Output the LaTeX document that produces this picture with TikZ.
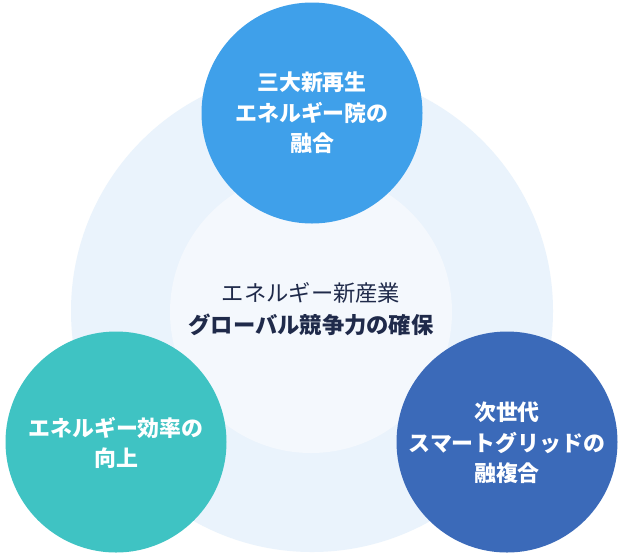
\documentclass[tikz,border=0pt]{standalone}
\usepackage{fontspec}
\setmainfont{Noto Sans CJK JP}
\begin{document}
\begin{tikzpicture}[x=1pt,y=-1pt,
  bigc/.style={circle,minimum size=#1,inner sep=0pt},
  ctext/.style={text=white,font=\fontsize{21.9}{30.5}\selectfont\bfseries,align=center},
  mtext/.style={text=navy,font=\fontsize{22.3}{32}\selectfont,align=center}]
\definecolor{ringc}{HTML}{EAF3FC}
\definecolor{innerc}{HTML}{F4F8FD}
\definecolor{topc}{HTML}{3FA0EA}
\definecolor{leftc}{HTML}{3FC3C3}
\definecolor{rightc}{HTML}{3B6AB9}
\definecolor{navy}{HTML}{1F2A4A}
\useasboundingbox[fill=white] (0,0) rectangle (620,555);
\node[bigc=482pt,fill=ringc] (ring) at (312,311) {};
\node[bigc=282pt,fill=innerc] (inner) at (311,312) {};
\node[mtext] (core) at (311,309) {エネルギー新産業\\{\bfseries グローバル競争力の確保}};
\node[bigc=221pt,fill=topc] (top) at (312,113) {};
\node[ctext] (toptext) at (top.center) {三大新再生\\エネルギー院の\\融合};
\node[bigc=221pt,fill=leftc] (left) at (116,442) {};
\node[ctext] (lefttext) at (116,443) {エネルギー効率の\\向上};
\node[bigc=221pt,fill=rightc] (right) at (507,442) {};
\node[ctext] (righttext) at (507,443) {次世代\\スマートグリッドの\\融複合};
\end{tikzpicture}
\end{document}
